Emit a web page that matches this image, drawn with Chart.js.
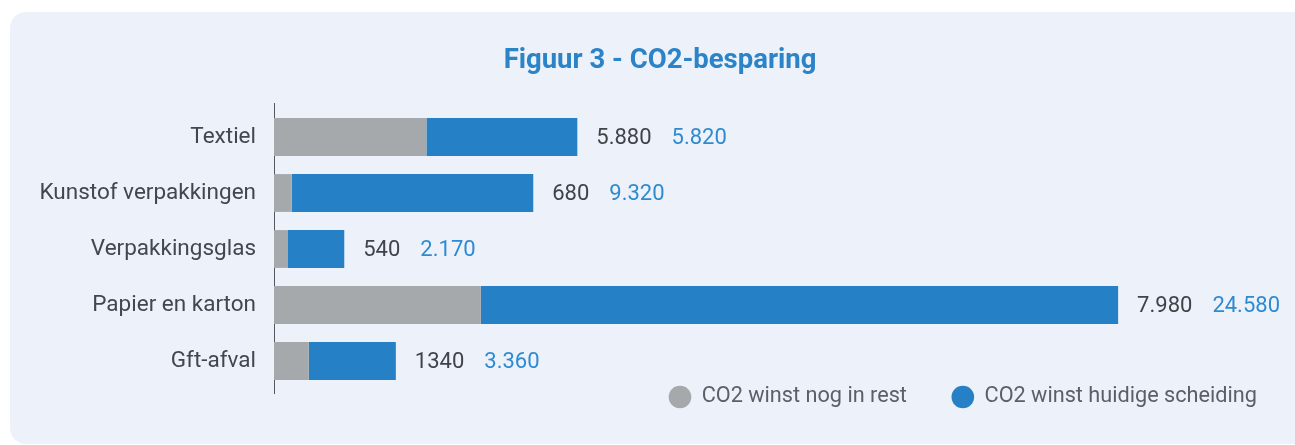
<!DOCTYPE html>
<html>
<head>
<meta charset="utf-8">
<script src="https://cdn.jsdelivr.net/npm/chart.js@4"></script>
<style>
  html, body { margin: 0; padding: 0; background: #ffffff; overflow: hidden; }
  .panel {
    position: absolute; left: 10px; top: 12px;
    width: 1320px; height: 432px;
    background: #edf1fa; border-radius: 16px;
  }
  .wrap { position: absolute; left: 0; top: 0; width: 1320px; height: 445px; }
</style>
</head>
<body>
<div class="panel"></div>
<div class="wrap"><canvas id="co2Chart"></canvas></div>
<script>
// CO2-BESPARING

const categories = [
  "Textiel",
  "Kunstof verpakkingen",
  "Verpakkingsglas",
  "Papier en karton",
  "Gft-afval",
];

// CO2 winst nog in rest
const restValues = [5880, 680, 540, 7980, 1340];
const restLabels = ["5.880", "680", "540", "7.980", "1340"];

// CO2 winst huidige scheiding
const scheidingValues = [5820, 9320, 2170, 24580, 3360];
const scheidingLabels = ["5.820", "9.320", "2.170", "24.580", "3.360"];

const GRAY = "#a5a9ac";
const BLUE = "#2680c5";

Chart.defaults.font.family = "Roboto";

// value labels right of each bar
const valueLabels = {
  id: "valueLabels",
  afterDatasetsDraw(chart) {
    const ctx = chart.ctx;
    const meta = chart.getDatasetMeta(1);
    ctx.save();
    ctx.font = "22px Roboto";
    ctx.textBaseline = "middle";
    ctx.textAlign = "left";
    meta.data.forEach((bar, i) => {
      let x = bar.x + 19;
      ctx.fillStyle = "#404448";
      ctx.fillText(restLabels[i], x, bar.y + 1);
      x += ctx.measureText(restLabels[i]).width + 20;
      ctx.fillStyle = "#2e8bd0";
      ctx.fillText(scheidingLabels[i], x, bar.y + 1);
    });
    ctx.restore();
  },
};

// y axis line, a bit longer than the chart area
const axisLine = {
  id: "axisLine",
  beforeDatasetsDraw(chart) {
    const { ctx, chartArea } = chart;
    ctx.save();
    ctx.strokeStyle = "#55595e";
    ctx.lineWidth = 1;
    ctx.beginPath();
    ctx.moveTo(chartArea.left + 0.5, chartArea.top - 6);
    ctx.lineTo(chartArea.left + 0.5, chartArea.bottom + 5);
    ctx.stroke();
    ctx.restore();
  },
};

// legend sits over the bottom of the chart area
const legendPlacer = {
  id: "legendPlacer",
  beforeInit(chart) {
    const fit = chart.legend.fit;
    chart.legend.fit = function () {
      fit.call(this);
      this.fullHeight = this.height;
      this.height = 0;
    };
  },
  afterLayout(chart) {
    const lg = chart.legend;
    const pad = lg.options.labels.padding;
    const size = lg.options.labels.font.size;
    const top = chart.chartArea.bottom + 8 - pad - size / 2;
    lg.top = top;
    lg.bottom = top + lg.fullHeight;
    lg.height = lg.fullHeight;
    lg.left -= 9;
    lg.right -= 9;
  },
};

const co2Chart = document.getElementById("co2Chart");

new Chart(co2Chart, {
  type: "bar",
  data: {
    labels: categories,
    datasets: [
      {
        label: "CO2 winst nog in rest",
        data: restValues,
        backgroundColor: GRAY,
        borderWidth: 0,
        categoryPercentage: 1,
        barPercentage: 0.675,
      },
      {
        label: "CO2 winst huidige scheiding",
        data: scheidingValues,
        backgroundColor: BLUE,
        borderWidth: 0,
        categoryPercentage: 1,
        barPercentage: 0.675,
      },
    ],
  },
  options: {
    indexAxis: "y",
    responsive: true,
    maintainAspectRatio: false,
    animation: false,
    layout: {
      padding: { top: 45, right: 9, bottom: 56, left: 9 },
    },
    scales: {
      x: {
        stacked: true,
        display: false,
        min: 0,
        max: 40000,
      },
      y: {
        stacked: true,
        grid: { display: false, drawTicks: false },
        border: { display: false },
        ticks: {
          padding: 18,
          color: "#43474d",
          font: { size: 22.5 },
        },
        afterFit(scale) {
          scale.width = 265;
        },
      },
    },
    plugins: {
      title: {
        display: true,
        text: "Figuur 3 - CO2-besparing",
        color: "#2b83c8",
        font: { size: 27.5, weight: "bold" },
        padding: { top: 0, bottom: 31 },
      },
      legend: {
        position: "bottom",
        align: "end",
        labels: {
          usePointStyle: true,
          pointStyle: "circle",
          boxHeight: 16,
          padding: 45,
          color: "#5b6068",
          font: { size: 21.7 },
        },
      },
      tooltip: { enabled: false },
    },
  },
  plugins: [valueLabels, axisLine, legendPlacer],
});
</script>
</body>
</html>
